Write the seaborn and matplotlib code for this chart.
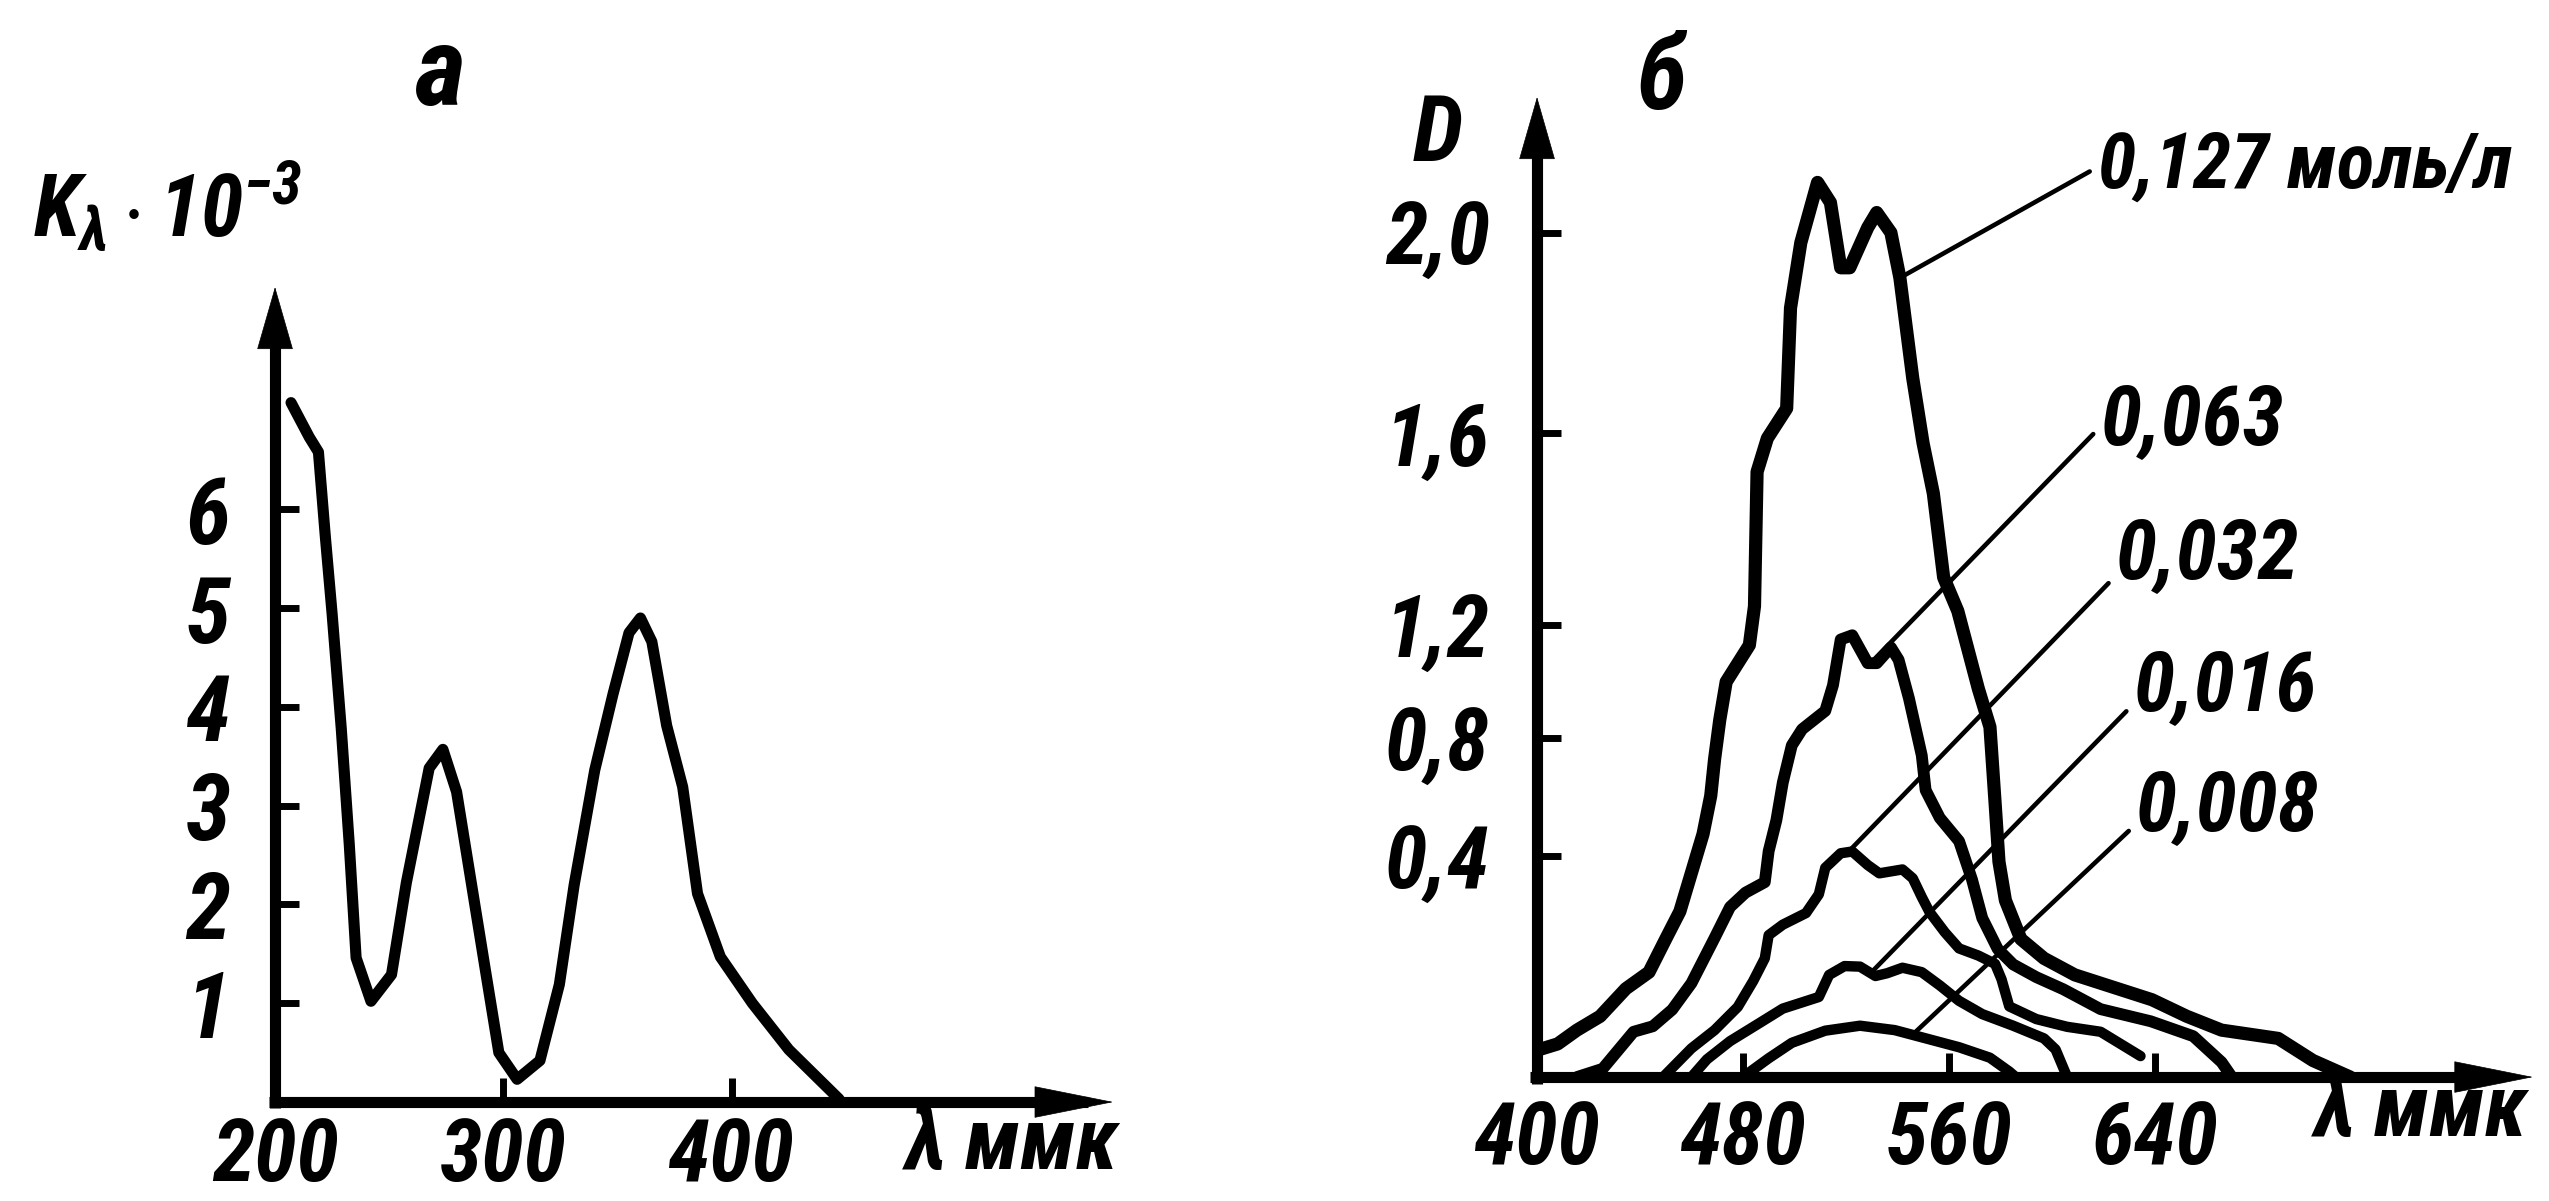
import matplotlib
matplotlib.use("Agg")
import matplotlib.pyplot as plt
import numpy as np
import seaborn as sns
from matplotlib import font_manager

# panel a: absorption coefficient vs wavelength
wl_a = [207, 215, 219, 222, 225, 229, 232.5, 235.5, 242, 251, 257.5, 267.5, 273.5, 279.5, 286,
        292.5, 298, 306, 316, 324.5, 331, 340, 348, 355, 360, 365, 371.5, 378.5, 385, 395,
        409, 425, 447]
k_a = [7.08, 6.73, 6.58, 5.73, 4.94, 3.78, 2.61, 1.46, 1.02, 1.29, 2.22, 3.38, 3.57, 3.14, 2.21,
       1.28, 0.5, 0.23, 0.42, 1.19, 2.2, 3.36, 4.13, 4.75, 4.9, 4.66, 3.81, 3.19, 2.11, 1.47,
       1.0, 0.53, 0.03]

# panel b: optical density for several concentrations
wl_127 = [401, 408, 415.5, 424.5, 434.5, 443.5, 450, 455.5, 460, 464.5, 467.5, 469, 471, 473.5,
          478, 482.5, 484.5, 485.5, 489.5, 497, 498.5, 502.5, 509, 514, 518, 521.5, 528.5, 532,
          537.5, 541, 546, 550, 554, 558, 563.5, 571.5, 576, 578, 579.5, 582, 588, 597, 609,
          619, 639, 652.5, 666, 688, 701.5, 716]
d_127 = [0.05, 0.06, 0.085, 0.11, 0.16, 0.19, 0.25, 0.30, 0.37, 0.475, 0.605, 0.73, 0.865, 1.0,
         1.065, 1.13, 1.24, 1.52, 1.59, 1.65, 1.85, 1.98, 2.10, 2.06, 1.93, 1.93, 2.01, 2.04,
         2.0, 1.91, 1.71, 1.58, 1.475, 1.30, 1.23, 0.975, 0.84, 0.58, 0.39, 0.32, 0.25, 0.215,
         0.185, 0.17, 0.14, 0.11, 0.085, 0.07, 0.03, 0.0]
wl_063 = [415.5, 425.5, 437.5, 445, 452.5, 460, 469, 475, 481, 488.5, 490, 493, 495.5, 499, 503,
          512, 515, 518, 522.5, 528.5, 532, 537.5, 540.5, 544.5, 549.5, 551, 556.5, 564, 569,
          573, 579, 585, 594, 604.5, 619, 638.5, 655, 666, 670]
d_063 = [0.0, 0.015, 0.082, 0.092, 0.122, 0.17, 0.252, 0.308, 0.334, 0.353, 0.417, 0.522, 0.65,
         0.776, 0.832, 0.897, 0.988, 1.15, 1.165, 1.066, 1.066, 1.122, 1.078, 0.942, 0.742,
         0.624, 0.53, 0.451, 0.358, 0.288, 0.232, 0.204, 0.181, 0.159, 0.123, 0.101, 0.074,
         0.027, 0.0]
wl_032 = [449, 460, 469, 478, 484, 488.5, 490, 495.5, 504.5, 509.5, 512, 518, 522.5, 528.5, 533,
          542, 546, 549.5, 552.5, 558.5, 564, 571.5, 578, 580.5, 583.5, 594, 606, 619, 634.5]
d_032 = [0.0, 0.052, 0.085, 0.127, 0.174, 0.215, 0.257, 0.276, 0.297, 0.331, 0.379, 0.41, 0.416,
         0.384, 0.369, 0.376, 0.36, 0.326, 0.299, 0.262, 0.233, 0.22, 0.205, 0.177, 0.128,
         0.105, 0.091, 0.082, 0.038]
wl_016 = [460, 466, 475, 486.5, 495.5, 509.5, 513.5, 519.5, 525.5, 531.5, 536, 542, 549.5, 556.5,
          564, 573, 585, 597, 601.5, 606]
d_016 = [0.0, 0.032, 0.065, 0.098, 0.124, 0.145, 0.185, 0.201, 0.2, 0.183, 0.188, 0.198, 0.19,
         0.166, 0.138, 0.114, 0.093, 0.07, 0.05, 0.0]
wl_008 = [480, 490, 499, 512, 525.5, 539, 549.5, 564, 576, 583.5, 586]
d_008 = [0.0, 0.034, 0.062, 0.084, 0.093, 0.085, 0.072, 0.054, 0.035, 0.01, 0.0]

conc_labels = ["0,127 моль/л", "0,063", "0,032", "0,016", "0,008"]

a_xticks = [200, 300, 400]
a_yticks = [1, 2, 3, 4, 5, 6]
b_xticks = [400, 480, 560, 640]
b_yticks = [0.4, 0.8, 1.2, 1.6, 2.0]
b_yticklabels = ["0,4", "0,8", "1,2", "1,6", "2,0"]

sns.set_style("white")


def pick_font(names):
    # first family that actually has an italic face, narrow ones preferred
    for n in names:
        if any(f.name == n and f.style in ("italic", "oblique") for f in font_manager.fontManager.ttflist):
            return n
    return "DejaVu Sans"


font = pick_font(["DejaVu Sans Condensed", "Liberation Sans Narrow", "Roboto Condensed",
                  "Roboto", "Liberation Sans"])
plt.rcParams["font.family"] = [font, "DejaVu Sans"]
plt.rcParams["font.style"] = "italic"
plt.rcParams["font.weight"] = "bold"
plt.rcParams["font.stretch"] = "condensed"
plt.rcParams["mathtext.fontset"] = "custom"
plt.rcParams["mathtext.it"] = f"{font}:italic:bold"
plt.rcParams["mathtext.rm"] = f"{font}:italic:bold"
plt.rcParams["mathtext.bf"] = f"{font}:italic:bold"
plt.rcParams["mathtext.default"] = "it"
for key in ["text.color", "axes.labelcolor", "xtick.color", "ytick.color"]:
    plt.rcParams[key] = "black"

# the printed D axis is not evenly spaced, so map ticks the way the book drew them
d_knots = [0, 0.4, 0.8, 1.2, 1.6, 2.0, 2.4]
h_knots = [0, 221, 339, 452, 644, 845, 1046]


def fwd(v):
    return np.interp(v, d_knots, h_knots)


def inv(v):
    return np.interp(v, h_knots, d_knots)


def axis_arrows(ax, x_head, y_head):
    for s in ax.spines.values():
        s.set_visible(False)
    ax.plot([-0.007, 0.97], [0, 0], transform=ax.transAxes, color="k", lw=8,
            clip_on=False, solid_capstyle="butt")
    ax.plot([0, 0], [-0.007, 0.96], transform=ax.transAxes, color="k", lw=8,
            clip_on=False, solid_capstyle="butt")
    ax.annotate("", xy=(1, 0), xytext=(0.9, 0), xycoords="axes fraction",
                arrowprops=dict(arrowstyle=f"-|>,head_length={x_head[0]},head_width={x_head[1]}",
                                lw=0.5, color="k", mutation_scale=50, shrinkA=0, shrinkB=0))
    ax.annotate("", xy=(0, 1), xytext=(0, 0.9), xycoords="axes fraction",
                arrowprops=dict(arrowstyle=f"-|>,head_length={y_head[0]},head_width={y_head[1]}",
                                lw=0.5, color="k", mutation_scale=50, shrinkA=0, shrinkB=0))


fig = plt.figure(figsize=(25.49, 12.01), dpi=100)

# ---- panel a ----
ax1 = fig.add_axes([0.1079, 0.0824, 0.3288, 0.6786])
sns.lineplot(x=wl_a, y=k_a, ax=ax1, color="k", lw=8, sort=False, estimator=None)
ax1.set_xlim(200, 567)
ax1.set_ylim(0, 8.25)
ax1.set_xticks(a_xticks)
ax1.set_xticklabels([str(t) for t in a_xticks])
ax1.set_yticks(a_yticks)
ax1.set_yticklabels([str(t) for t in a_yticks])
ax1.tick_params(axis="both", direction="in", length=17, width=5, left=True, bottom=True)
ax1.tick_params(axis="x", pad=10, labelsize=62)
ax1.tick_params(axis="y", pad=32, labelsize=66)
axis_arrows(ax1, (1.1, 0.22), (0.87, 0.25))

# ---- panel b ----
ax2 = fig.add_axes([0.6030, 0.1032, 0.3907, 0.816])
ax2.set_yscale("function", functions=(fwd, inv))
series = [(wl_127, d_127, 9.5), (wl_063, d_063, 8.5), (wl_032, d_032, 7.5),
          (wl_016, d_016, 7.5), (wl_008, d_008, 7.5)]
for wl, d, lw in series:
    sns.lineplot(x=wl, y=d, ax=ax2, color="k", lw=lw, sort=False, estimator=None)
ax2.set_xlim(400, 787)
ax2.set_ylim(0, 2.27)
ax2.set_xticks(b_xticks)
ax2.set_xticklabels([str(t) for t in b_xticks])
ax2.set_yticks(b_yticks)
ax2.set_yticklabels(b_yticklabels)
ax2.minorticks_off()
ax2.tick_params(axis="both", direction="in", length=17, width=5, labelsize=62,
                left=True, bottom=True)
ax2.tick_params(axis="x", pad=16)
ax2.tick_params(axis="y", pad=34)
axis_arrows(ax2, (1.1, 0.22), (0.87, 0.25))

# leader lines from the curves to their concentration labels
leaders = [((541, 1.91), (0.823, 0.861), (0, 0.5), 56),
           ((530, 1.07), (0.824, 0.648), (0, 0.45), 60),
           ((521, 0.415), (0.830, 0.537), (0, 0.25), 60),
           ((530, 0.19), (0.837, 0.427), (0, 0.3), 60),
           ((546, 0.077), (0.838, 0.327), (0, 0.3), 60)]
for label, (xy, txt, rel, size) in zip(conc_labels, leaders):
    ax2.annotate(label, xy=xy, xycoords="data", xytext=txt, textcoords="figure fraction",
                 ha="left", va="center", fontsize=size,
                 arrowprops=dict(arrowstyle="-", lw=3.3, color="k", relpos=rel,
                                 shrinkA=4, shrinkB=0))

# panel letters and axis titles
fig.text(0.1726, 0.9376, "а", fontsize=80, ha="center", va="center")
fig.text(0.652, 0.933, "б", fontsize=74, ha="center", va="center")
fig.text(0.0659, 0.8276, r"$K_{\lambda}\cdot 10^{-3}$", fontsize=62, ha="center", va="center")
fig.text(0.5641, 0.8868, "D", fontsize=66, ha="center", va="center")
fig.text(0.397, 0.046, "λ ммк", fontsize=62, ha="center", va="center")
fig.text(0.950, 0.074, "λ ммк", fontsize=62, ha="center", va="center")

fig.savefig("out.png", dpi=100, facecolor="white")
